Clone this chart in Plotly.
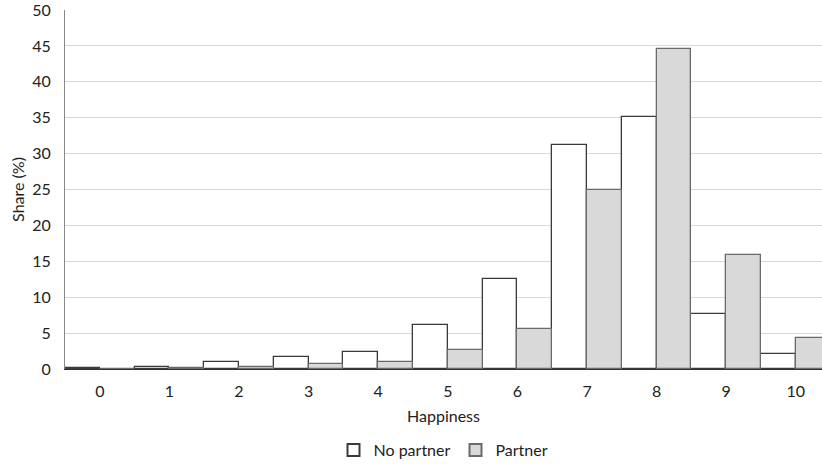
import plotly.graph_objects as go

categories = ["0", "1", "2", "3", "4", "5", "6", "7", "8", "9", "10"]
no_partner = [0.1, 0.3, 1.0, 1.7, 2.3, 6.1, 12.6, 31.2, 35.1, 7.6, 2.1]
partner = [0.05, 0.1, 0.3, 0.7, 1.0, 2.6, 5.6, 24.9, 44.6, 15.9, 4.3]
y_ticks = [0, 5, 10, 15, 20, 25, 30, 35, 40, 45, 50]

xs = list(range(len(categories)))
fig = go.Figure()
fig.add_trace(go.Bar(x=xs, y=no_partner, name="No partner",
                     marker=dict(color="white", line=dict(color="#3a3a3a", width=1.3))))
fig.add_trace(go.Bar(x=xs, y=partner, name="Partner",
                     marker=dict(color="#d9d9d9", line=dict(color="#6a6a6a", width=1.3))))

font = "Lato"
fig.update_layout(
    width=822, height=467,
    margin=dict(l=65, r=0, t=10, b=97),
    paper_bgcolor="white", plot_bgcolor="white",
    barmode="group", bargap=0, bargroupgap=0,
    font=dict(family=font, size=16, color="#222222"),
    legend=dict(orientation="h", x=0.5, xanchor="center", y=-0.225, yanchor="middle",
                font=dict(size=16), itemsizing="constant", traceorder="normal",
                itemwidth=30),
    xaxis=dict(range=[-0.5, 10.376], tickmode="array", tickvals=xs, ticktext=categories,
               showgrid=False, showline=True, linecolor="#333333", linewidth=1,
               ticks="", ticklabelstandoff=8, automargin=False, ticklabeloverflow="allow",
               title=dict(text="Share (%)" if False else "Happiness", font=dict(size=16), standoff=11),
               zeroline=False),
    yaxis=dict(range=[0, 50], tickmode="array", tickvals=y_ticks,
               showgrid=True, gridcolor="#d9d9d9", gridwidth=1,
               showline=True, linecolor="#888888", linewidth=1, ticks="",
               ticklabelstandoff=10, automargin=False, ticklabeloverflow="allow",
               title=dict(text="Share (%)", font=dict(size=16), standoff=3),
               zeroline=False),
)
fig.write_html("out.html", post_script="document.body.style.margin='0';",
               config={"displayModeBar": False})
